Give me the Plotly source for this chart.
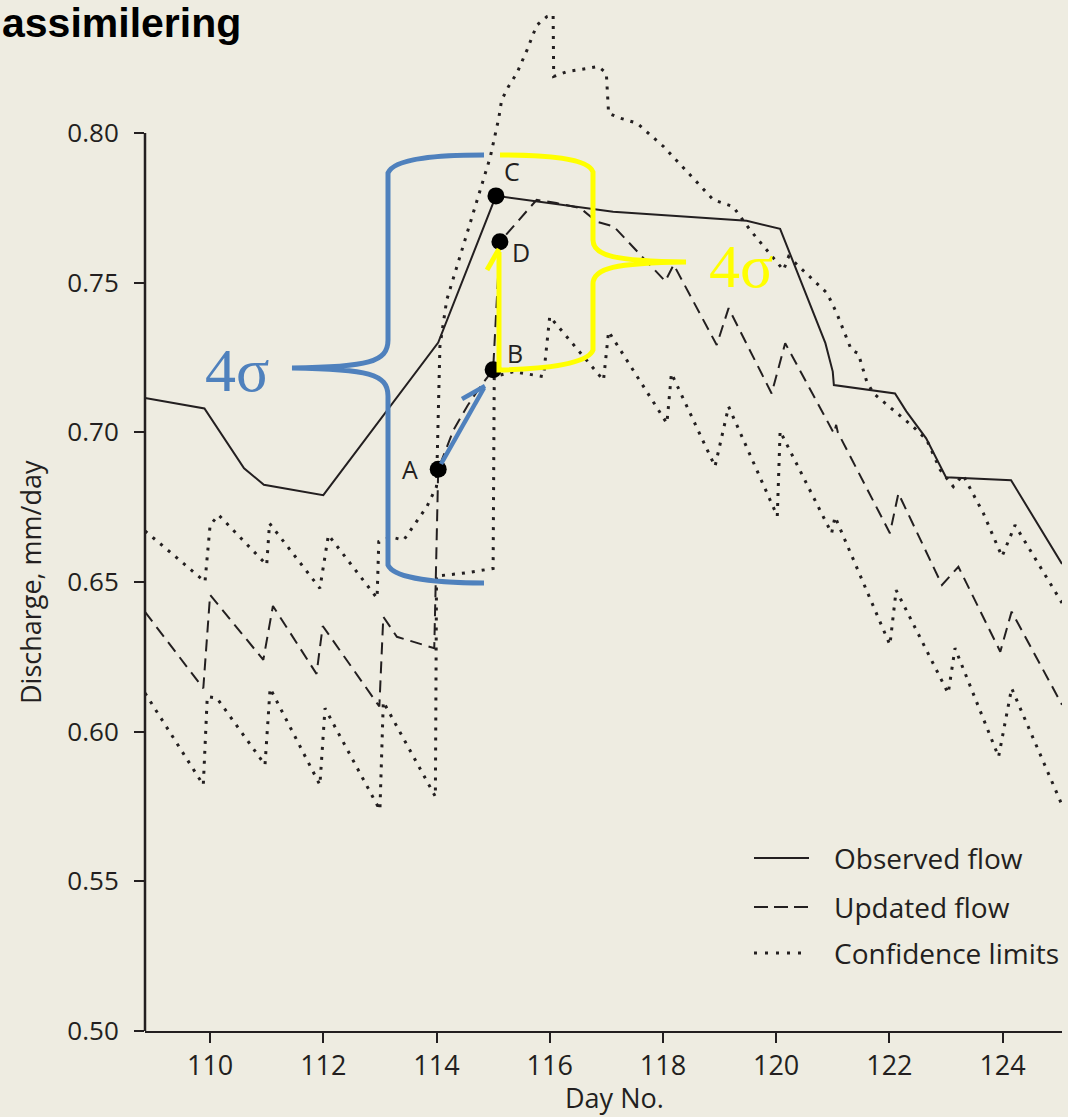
import plotly.graph_objects as go

# ---------------- data ----------------
obs_day = [108.85, 109.9, 110.6, 110.95, 112.0, 114.03, 115.05, 117.12, 119.48, 120.07,
           120.87, 121.0, 121.02, 122.1, 122.3, 122.65, 123.0, 124.15, 125.05]
obs_val = [0.7115, 0.708, 0.688, 0.6825, 0.679, 0.730, 0.779, 0.7737, 0.7707, 0.768,
           0.7298, 0.7203, 0.7158, 0.713, 0.707, 0.698, 0.685, 0.684, 0.656]

upd_day = [108.85, 109.88, 110.0, 110.94, 111.11, 111.88, 111.99, 112.99, 113.06, 113.3,
           113.96, 114.03, 114.3, 114.55, 114.8, 115.0, 115.12, 115.77, 116.12, 116.54,
           116.83, 117.13, 118.04, 118.19, 118.95, 119.16, 119.92, 120.16, 121.02, 121.06,
           121.09, 122.01, 122.16, 122.93, 123.22, 123.96, 124.16, 125.05]
upd_val = [0.6400, 0.6145, 0.6457, 0.624, 0.642, 0.6193, 0.6353, 0.6084, 0.6384, 0.6317,
           0.6279, 0.6877, 0.7008, 0.709, 0.716, 0.7209, 0.7637, 0.7777, 0.7766, 0.7749,
           0.7704, 0.7688, 0.7505, 0.7560, 0.7292, 0.7415, 0.713, 0.7298, 0.6997, 0.7025,
           0.7000, 0.6663, 0.6796, 0.649, 0.6551, 0.6267, 0.6401, 0.609]

up_day = [108.85, 109.91, 110.0, 110.15, 111.0, 111.05, 111.94, 112.09, 112.95, 112.98,
          113.2, 113.42, 113.83, 114.0, 114.06, 114.18, 114.95, 115.1, 115.15, 115.27,
          115.42, 115.6, 115.77, 115.95, 116.06, 116.07, 116.3, 116.65, 116.86, 117.0,
          117.04, 117.24, 117.54, 118.01, 118.89, 119.24, 119.54, 119.83, 120.13, 120.22,
          120.9, 121.07, 121.25, 121.33, 121.45, 121.6, 121.72, 122.42, 122.66, 122.9,
          123.13, 123.3, 123.66, 123.99, 124.22, 124.9, 125.05]
up_val = [0.6671, 0.6501, 0.669, 0.6724, 0.6557, 0.6696, 0.6479, 0.6657, 0.6446, 0.6635,
          0.665, 0.664, 0.6752, 0.6819, 0.7287, 0.7442, 0.792, 0.805, 0.811, 0.8155,
          0.820, 0.8278, 0.836, 0.8389, 0.8395, 0.8189, 0.8205, 0.8216, 0.8222, 0.820,
          0.8066, 0.805, 0.8033, 0.7955, 0.7777, 0.7754, 0.7676, 0.761, 0.7542, 0.7587,
          0.7465, 0.7398, 0.7309, 0.7275, 0.7264, 0.717, 0.713, 0.7019, 0.6975, 0.6874,
          0.6819, 0.6858, 0.673, 0.6585, 0.669, 0.6473, 0.643]

lo_day = [108.85, 109.88, 109.95, 110.12, 110.97, 111.06, 111.94, 112.03, 113.0, 113.06,
          113.98, 114.0, 114.5, 115.0, 115.02, 115.36, 115.89, 116.0, 116.95, 117.04,
          118.07, 118.15, 118.92, 119.16, 120.02, 120.07, 120.98, 121.04, 122.01, 122.12,
          123.04, 123.16, 123.93, 124.16, 125.05]
lo_val = [0.6129, 0.5822, 0.6117, 0.6112, 0.5889, 0.6145, 0.5822, 0.6078, 0.5738, 0.610,
          0.5783, 0.652, 0.653, 0.6545, 0.7186, 0.7203, 0.7186, 0.7387, 0.7174, 0.7337,
          0.703, 0.7197, 0.6886, 0.7086, 0.672, 0.7004, 0.6663, 0.6718, 0.629, 0.6473,
          0.6128, 0.6279, 0.5916, 0.6145, 0.5755]

pt_labels = ["A", "B", "C", "D"]
pt_day = [114.03, 115.0, 115.05, 115.12]
pt_val = [0.6877, 0.7209, 0.779, 0.7637]

legend_labels = ["Observed flow", "Updated flow", "Confidence limits"]
x_ticks = [110, 112, 114, 116, 118, 120, 122, 124]
y_ticks = [0.50, 0.55, 0.60, 0.65, 0.70, 0.75, 0.80]

# ---------------- layout constants ----------------
W, H = 1068, 1117
ML, MR, MT, MB = 145, 6, 10, 86
X0, X1 = 108.85, 125.05
Y0, Y1 = 0.50, 0.8411
PW, PH = W - ML - MR, H - MT - MB
BG = "#eeece1"
INK = "#231f20"
BLUE = "#4f81bd"
YEL = "#ffff00"
FONT = "Open Sans"


def dx(px):
    return X0 + (px - ML) / PW * (X1 - X0)


def dy(py):
    return Y0 + (MT + PH - py) / PH * (Y1 - Y0)


def path(cmds):
    out = []
    for c, pts in cmds:
        out.append(c + " " + " ".join(f"{dx(x):.5f},{dy(y):.6f}" for x, y in pts))
    return " ".join(out)


def px_x(px):
    return (px - ML) / PW


def px_y(py):
    return (MT + PH - py) / PH


fig = go.Figure()
fig.add_trace(go.Scatter(x=up_day, y=up_val, mode="lines",
                         line=dict(color=INK, width=3, dash="3px,7px"), hoverinfo="skip"))
fig.add_trace(go.Scatter(x=lo_day, y=lo_val, mode="lines",
                         line=dict(color=INK, width=3, dash="3px,7px"), hoverinfo="skip"))
fig.add_trace(go.Scatter(x=upd_day, y=upd_val, mode="lines",
                         line=dict(color=INK, width=2, dash="12px,7px"), hoverinfo="skip"))
fig.add_trace(go.Scatter(x=obs_day, y=obs_val, mode="lines",
                         line=dict(color=INK, width=2), hoverinfo="skip"))
fig.add_trace(go.Scatter(x=pt_day, y=pt_val, mode="markers",
                         marker=dict(color="black", size=17), hoverinfo="skip"))

shapes = []
# y axis line (only from 0.50 to 0.80)
shapes.append(dict(type="line", xref="paper", yref="y", x0=0, x1=0, y0=0.5, y1=0.8,
                   line=dict(color=INK, width=2.5)))

# blue brace
blue_brace = path([("M", [(484, 155)]), ("C", [(440, 155), (394, 158), (388, 173)]),
                   ("L", [(388, 340)]), ("C", [(388, 362), (368, 367), (292, 368)]),
                   ("C", [(368, 369), (388, 374), (388, 396)]), ("L", [(388, 565)]),
                   ("C", [(394, 579), (440, 583), (484, 583)])])
shapes.append(dict(type="path", xref="x", yref="y", path=blue_brace,
                   line=dict(color=BLUE, width=5)))
# blue arrow A -> B
shapes.append(dict(type="path", xref="x", yref="y",
                   path=path([("M", [(441, 464)]), ("L", [(484, 388)])]),
                   line=dict(color=BLUE, width=4.5)))
shapes.append(dict(type="path", xref="x", yref="y",
                   path=path([("M", [(462, 399)]), ("L", [(485, 386), (483, 410)])]),
                   line=dict(color=BLUE, width=4.5)))

# yellow brace and arrow B -> D
yel_brace = path([("M", [(500, 155)]), ("C", [(545, 155), (588, 158), (593, 172)]),
                  ("L", [(593, 240)]), ("C", [(593, 256), (615, 261), (686, 262)]),
                  ("C", [(615, 263), (593, 268), (593, 284)]), ("L", [(593, 350)]),
                  ("C", [(588, 364), (545, 369), (499, 370)]), ("L", [(499, 252)])])
shapes.append(dict(type="path", xref="x", yref="y", path=yel_brace,
                   line=dict(color=YEL, width=5)))
shapes.append(dict(type="path", xref="x", yref="y",
                   path=path([("M", [(487, 270)]), ("L", [(499, 249), (511, 268)])]),
                   line=dict(color=YEL, width=5)))

# custom legend samples
leg_y = [858, 907, 953]
leg_dash = ["solid", "14px,6px", "3px,8px"]
leg_w = [2, 2, 3]
for yy, ds, lw in zip(leg_y, leg_dash, leg_w):
    shapes.append(dict(type="line", xref="paper", yref="paper",
                       x0=px_x(754), x1=px_x(809), y0=px_y(yy), y1=px_y(yy),
                       line=dict(color=INK, width=lw, dash=ds)))

annotations = []
for lab, yy in zip(legend_labels, leg_y):
    annotations.append(dict(text=lab, xref="paper", yref="paper", x=px_x(832), y=px_y(yy),
                            xanchor="left", yanchor="middle", showarrow=False,
                            font=dict(family=FONT, size=28, color=INK)))

# point labels
offs = [(-28, 0), (22, 17), (16, 25), (21, -10)]
for lab, d, v, (sx, sy) in zip(pt_labels, pt_day, pt_val, offs):
    annotations.append(dict(text=lab, x=d, y=v, xref="x", yref="y", showarrow=False,
                            xshift=sx, yshift=sy, xanchor="center", yanchor="middle",
                            font=dict(family=FONT, size=25, color=INK)))

# 4 sigma texts
annotations.append(dict(text="4σ", x=dx(237), y=dy(370), xref="x", yref="y", showarrow=False,
                        xanchor="center", yanchor="middle",
                        font=dict(family="Liberation Serif", size=62, color=BLUE)))
annotations.append(dict(text="4σ", x=dx(741), y=dy(266), xref="x", yref="y", showarrow=False,
                        xanchor="center", yanchor="middle",
                        font=dict(family="Liberation Serif", size=62, color=YEL)))

# title at the top-left corner
annotations.append(dict(text="<b>assimilering</b>", xref="paper", yref="paper", x=0, y=1,
                        xanchor="left", yanchor="middle", xshift=-145, yshift=-13,
                        showarrow=False,
                        font=dict(family="Liberation Sans", size=41, color="black")))

# axis titles
annotations.append(dict(text="Discharge, mm/day", xref="paper", yref="y", x=0, y=0.65,
                        xshift=-115, xanchor="center", yanchor="middle",
                        textangle=-90, showarrow=False,
                        font=dict(family=FONT, size=27, color=INK)))
annotations.append(dict(text="Day No.", xref="paper", yref="paper", x=px_x(614), y=0,
                        yshift=-66, xanchor="center", yanchor="middle", showarrow=False,
                        font=dict(family=FONT, size=27, color=INK)))

fig.update_layout(
    width=W, height=H,
    margin=dict(l=ML, r=MR, t=MT, b=MB, pad=0),
    paper_bgcolor=BG, plot_bgcolor=BG,
    showlegend=False,
    shapes=shapes, annotations=annotations,
    xaxis=dict(range=[X0, X1], tickvals=x_ticks, ticktext=[str(t) for t in x_ticks],
               showgrid=False, zeroline=False, showline=True, linecolor=INK, linewidth=2,
               ticks="outside", ticklen=10, tickwidth=2, tickcolor=INK,
               tickfont=dict(family=FONT, size=27, color=INK)),
    yaxis=dict(range=[Y0, Y1], tickvals=y_ticks, ticktext=[f"{t:.2f}" for t in y_ticks],
               showgrid=False, zeroline=False, showline=False,
               ticks="outside", ticklen=10, tickwidth=2, tickcolor=INK, ticklabelstandoff=10,
               tickfont=dict(family=FONT, size=26, color=INK)),
)

fig.write_html("out.html", config={"displayModeBar": False},
               post_script="document.body.style.margin='0';document.body.style.background='#eeece1';")
